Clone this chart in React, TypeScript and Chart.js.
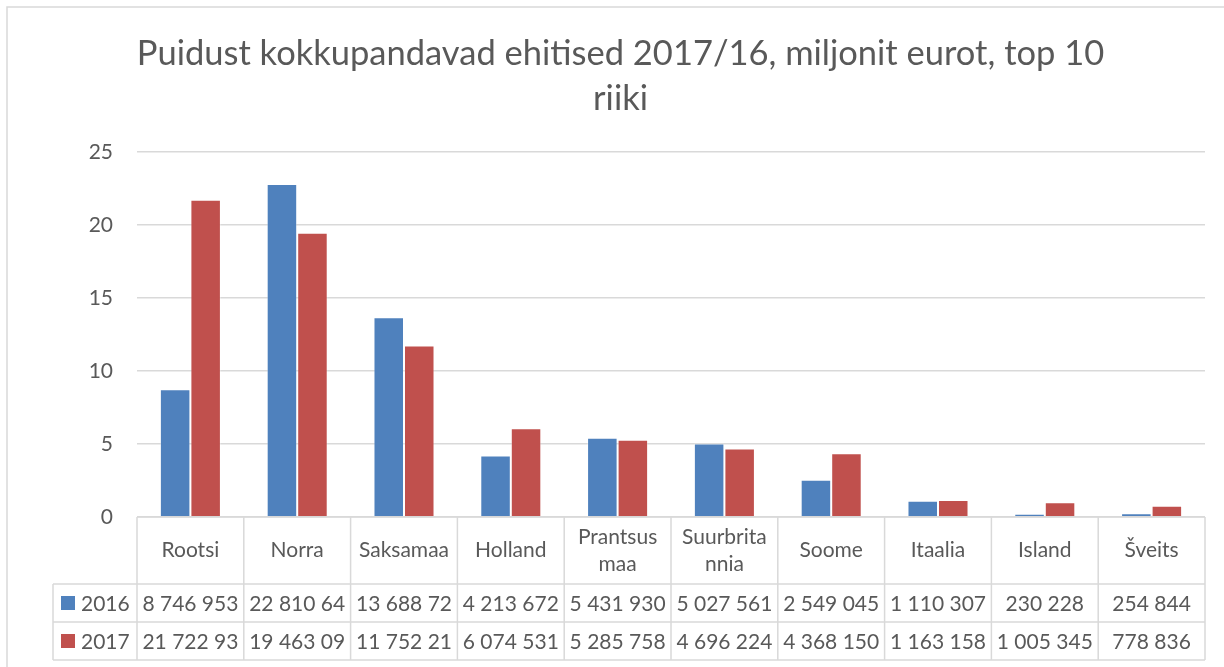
import React, { useEffect, useRef } from "react";
import { Chart, registerables } from "chart.js";

Chart.register(...registerables);

const TITLE_LINES = ["Puidust kokkupandavad ehitised 2017/16, miljonit eurot, top 10", "riiki"];
const CATEGORIES: string[][] = [
  ["Rootsi"], ["Norra"], ["Saksamaa"], ["Holland"], ["Prantsus", "maa"],
  ["Suurbrita", "nnia"], ["Soome"], ["Itaalia"], ["Island"], ["Šveits"],
];
const SERIES_NAMES = ["2016", "2017"];
const SERIES_COLORS = ["#4F81BD", "#C0504D"];
const VALUES_2016 = [8.746953, 22.81064, 13.68872, 4.213672, 5.43193, 5.027561, 2.549045, 1.110307, 0.230228, 0.254844];
const VALUES_2017 = [21.72293, 19.46309, 11.75221, 6.074531, 5.285758, 4.696224, 4.36815, 1.163158, 1.005345, 0.778836];
const TABLE_2016 = ["8 746 953", "22 810 64", "13 688 72", "4 213 672", "5 431 930", "5 027 561", "2 549 045", "1 110 307", "230 228", "254 844"];
const TABLE_2017 = ["21 722 93", "19 463 09", "11 752 21", "6 074 531", "5 285 758", "4 696 224", "4 368 150", "1 163 158", "1 005 345", "778 836"];
const Y_MIN = 0;
const Y_MAX = 25;
const Y_STEP = 5;

const FONT = "Lato";
const TEXT_COLOR = "#595959";
const LINE_COLOR = "#D9D9D9";

const tablePlugin = {
  id: "dataTable",
  beforeDraw(chart: any) {
    const ctx = chart.ctx;
    ctx.save();
    ctx.fillStyle = "#FFFFFF";
    ctx.fillRect(0, 0, chart.width, chart.height);
    ctx.strokeStyle = LINE_COLOR;
    ctx.lineWidth = 1.5;
    ctx.strokeRect(7, 7, chart.width + 20, chart.height + 20);
    ctx.restore();
  },
  afterDraw(chart: any) {
    const ctx = chart.ctx;
    const xs = chart.scales.x;
    const area = chart.chartArea;
    const n = CATEGORIES.length;
    const w = (area.right - area.left) / n;
    const top = area.bottom;
    const r1 = top + 67;
    const r2 = top + 105;
    const r3 = top + 143;
    const leftCol = 53;
    ctx.save();
    ctx.strokeStyle = LINE_COLOR;
    ctx.lineWidth = 1.5;
    ctx.beginPath();
    for (let i = 0; i <= n; i++) {
      const x = i < n ? xs.getPixelForValue(i) - w / 2 : xs.getPixelForValue(n - 1) + w / 2;
      ctx.moveTo(x, top);
      ctx.lineTo(x, r3);
    }
    ctx.moveTo(area.left, top);
    ctx.lineTo(area.right, top);
    [r1, r2, r3].forEach((y) => {
      ctx.moveTo(leftCol, y);
      ctx.lineTo(area.right, y);
    });
    ctx.moveTo(leftCol, r1);
    ctx.lineTo(leftCol, r3);
    ctx.stroke();

    ctx.fillStyle = TEXT_COLOR;
    ctx.font = `21px ${FONT}`;
    ctx.textAlign = "center";
    ctx.textBaseline = "middle";
    CATEGORIES.forEach((lines, i) => {
      const cx = xs.getPixelForValue(i);
      const mid = (top + r1) / 2;
      const lh = 27;
      lines.forEach((t, k) => {
        ctx.fillText(t, cx, mid + (k - (lines.length - 1) / 2) * lh);
      });
      ctx.fillText(TABLE_2016[i], cx, (r1 + r2) / 2 + 1);
      ctx.fillText(TABLE_2017[i], cx, (r2 + r3) / 2 + 1);
    });
    ctx.textAlign = "left";
    [[r1, r2], [r2, r3]].forEach(([a, b], s) => {
      const my = (a + b) / 2;
      ctx.fillStyle = SERIES_COLORS[s];
      ctx.fillRect(61, my - 7, 14, 14);
      ctx.fillStyle = TEXT_COLOR;
      ctx.fillText(SERIES_NAMES[s], 81, my + 1);
    });
    ctx.restore();
  },
};

export default function App() {
  const ref = useRef<HTMLCanvasElement | null>(null);
  useEffect(() => {
    if (!ref.current) return;
    const chart = new Chart(ref.current, {
      type: "bar",
      data: {
        labels: CATEGORIES.map((c) => c.join("")),
        datasets: [
          { label: SERIES_NAMES[0], data: VALUES_2016, backgroundColor: SERIES_COLORS[0], borderColor: "rgba(255,255,255,0.35)", borderWidth: 1, categoryPercentage: 2 / 3.5, barPercentage: 1 },
          { label: SERIES_NAMES[1], data: VALUES_2017, backgroundColor: SERIES_COLORS[1], borderColor: "rgba(255,255,255,0.35)", borderWidth: 1, categoryPercentage: 2 / 3.5, barPercentage: 1 },
        ],
      },
      options: {
        responsive: false,
        animation: false,
        devicePixelRatio: 1,
        layout: { padding: { left: 36, right: 19, top: 0, bottom: 150 } },
        plugins: {
          legend: { display: false },
          tooltip: { enabled: false },
          title: {
            display: true,
            text: TITLE_LINES,
            color: TEXT_COLOR,
            font: { family: FONT, size: 34.5, weight: "normal", lineHeight: 45 / 34.5 },
            padding: { top: 31, bottom: 31 },
          },
        },
        scales: {
          x: { display: false },
          y: {
            min: Y_MIN,
            max: Y_MAX,
            ticks: { stepSize: Y_STEP, color: TEXT_COLOR, font: { family: FONT, size: 21 }, padding: 24 },
            grid: { color: LINE_COLOR, lineWidth: 1.5, drawTicks: false },
            border: { display: false },
            afterFit(scale: any) {
              scale.width = 101;
            },
          },
        },
      },
      plugins: [tablePlugin],
    });
    return () => chart.destroy();
  }, []);
  return (
    <div style={{ position: "absolute", left: 0, top: 0, width: 1224, height: 667 }}>
      <canvas ref={ref} width={1224} height={667} />
    </div>
  );
}
